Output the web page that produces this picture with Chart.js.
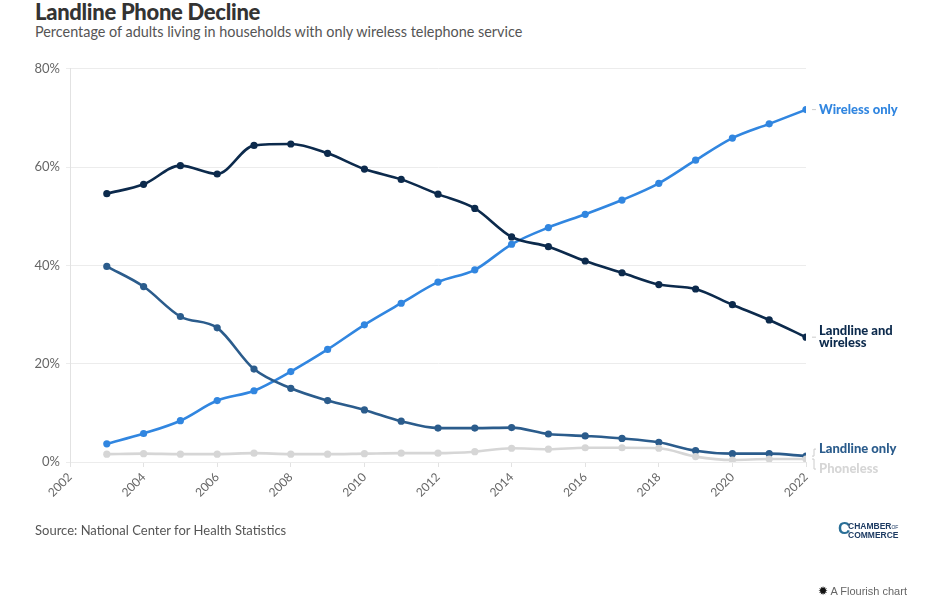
<!DOCTYPE html>
<html><head><meta charset="utf-8">
<script src="https://cdn.jsdelivr.net/npm/chart.js@4"></script>
<style>
html,body{margin:0;padding:0;background:#fff;width:950px;height:616px;overflow:hidden;font-family:Lato,"Open Sans",sans-serif;}
#title{position:absolute;left:35px;top:-2px;font-size:22px;font-weight:900;color:#333;letter-spacing:-0.3px;}
#sub{position:absolute;left:35px;top:23px;font-size:14.4px;color:#555;}
#wrap{position:absolute;left:0;top:55px;width:950px;height:470px;}
#src{position:absolute;left:35px;top:522px;font-size:13px;color:#555;}
#logo{position:absolute;left:838px;top:520px;font-family:"Liberation Sans",Arial,sans-serif;font-weight:700;color:#1d3b63;line-height:8px;font-size:8.5px;}
#logo .c{position:absolute;left:0;top:1px;font-size:17px;line-height:16px;color:#2a6f97;}
#logo .t{position:absolute;left:10px;top:2px;white-space:nowrap;}
#fl{position:absolute;left:818px;top:584px;font-family:"Liberation Sans",Arial,sans-serif;font-size:11px;color:#666;white-space:nowrap;}
#fl b{color:#111;font-family:"DejaVu Sans";font-size:12px;}
</style></head><body>
<div id="title">Landline Phone Decline</div>
<div id="sub">Percentage of adults living in households with only wireless telephone service</div>
<div id="wrap"><canvas id="c"></canvas></div>
<div id="src">Source: National Center for Health Statistics</div>
<div id="logo"><span class="c">C</span><span class="t">CHAMBER<span style="font-size:5px;font-weight:400">OF</span><br>COMMERCE</span></div>
<div id="fl"><b>✹</b> A Flourish chart</div>
<script>
const years = [2003,2004,2005,2006,2007,2008,2009,2010,2011,2012,2013,2014,2015,2016,2017,2018,2019,2020,2021,2022];
const landlineAndWireless = [54.6,56.5,60.3,58.6,64.4,64.7,62.8,59.6,57.5,54.5,51.6,45.8,43.8,40.9,38.5,36.1,35.2,32.0,28.9,25.4];
const wirelessOnly = [3.7,5.8,8.4,12.5,14.5,18.4,22.9,27.9,32.3,36.6,39.1,44.3,47.7,50.4,53.3,56.7,61.4,65.9,68.8,71.7];
const landlineOnly = [39.8,35.7,29.6,27.3,18.9,15.0,12.5,10.6,8.3,6.9,6.9,7.0,5.7,5.3,4.8,4.0,2.3,1.7,1.7,1.2];
const phoneless = [1.6,1.7,1.6,1.6,1.8,1.6,1.6,1.7,1.8,1.8,2.1,2.8,2.6,2.9,2.9,2.8,1.1,0.4,0.6,0.6];
const yTicks = [0,20,40,60,80];
const xTicks = [2002,2004,2006,2008,2010,2012,2014,2016,2018,2020,2022];

const series = [
  {name:'Phoneless', data:phoneless, color:'#d6d6d6', lines:['Phoneless'], dy:10},
  {name:'Landline only', data:landlineOnly, color:'#2b5c8c', lines:['Landline only'], dy:-7},
  {name:'Landline and wireless', data:landlineAndWireless, color:'#0c2a4c', lines:['Landline and','wireless'], dy:0},
  {name:'Wireless only', data:wirelessOnly, color:'#3186e0', lines:['Wireless only'], dy:0}
];

const labelPlugin = {
  id:'endLabels',
  afterDatasetsDraw(chart){
    const ctx = chart.ctx;
    const xs = chart.scales.x, ys = chart.scales.y;
    ctx.save();
    ctx.font = '900 13px Lato, "Open Sans", sans-serif';
    ctx.textBaseline = 'middle';
    series.forEach(s=>{
      const v = s.data[s.data.length-1];
      const px = xs.getPixelForValue(years[years.length-1]);
      const py = ys.getPixelForValue(v);
      const n = s.lines.length;
      const ty = py + s.dy;
      ctx.strokeStyle = '#ccc'; ctx.lineWidth = 1;
      ctx.beginPath();
      if (s.dy === 0) { ctx.moveTo(px+6, py); ctx.lineTo(px+10, py); }
      else { ctx.moveTo(px+6, py); ctx.lineTo(px+8, py); ctx.lineTo(px+8, ty); ctx.lineTo(px+10, ty); }
      ctx.stroke();
      ctx.fillStyle = s.color;
      s.lines.forEach((t,i)=>{
        ctx.fillText(t, px+13, ty + (i-(n-1)/2)*12);
      });
    });
    ctx.restore();
  }
};

new Chart(document.getElementById('c'), {
  type:'line',
  data:{
    datasets: series.map(s=>({
      label:s.name,
      data: years.map((y,i)=>({x:y, y:s.data[i]})),
      borderColor:s.color, backgroundColor:s.color,
      borderWidth:2.6, pointRadius:3.6, pointBorderWidth:0, pointHoverRadius:3.6,
      cubicInterpolationMode:'monotone', fill:false
    }))
  },
  options:{
    responsive:true, maintainAspectRatio:false, animation:false,
    layout:{padding:{left:0,right:144,top:12,bottom:0}},
    plugins:{legend:{display:false}, tooltip:{enabled:false}},
    scales:{
      x:{type:'linear', min:2002, max:2022,
        afterBuildTicks(s){ s.ticks = xTicks.map(v=>({value:v})); },
        afterFit(s){ s.height = 63; },
        grid:{drawOnChartArea:false, drawTicks:true, tickLength:5, color:'#e2e2e2'},
        border:{display:false},
        ticks:{minRotation:45, maxRotation:45, color:'#666', padding:3, font:{family:'Lato', size:12},
          callback:v=>String(v)}
      },
      y:{min:0, max:80,
        afterBuildTicks(s){ s.ticks = yTicks.map(v=>({value:v})); },
        afterFit(s){ s.width = 70; },
        grid:{color:'#ececec', tickLength:4, lineWidth:1},
        border:{display:true, color:'#e2e2e2'},
        ticks:{color:'#666', padding:6, font:{family:'Lato', size:13}, callback:v=>v+'%'}
      }
    }
  },
  plugins:[labelPlugin]
});
</script>
</body></html>
